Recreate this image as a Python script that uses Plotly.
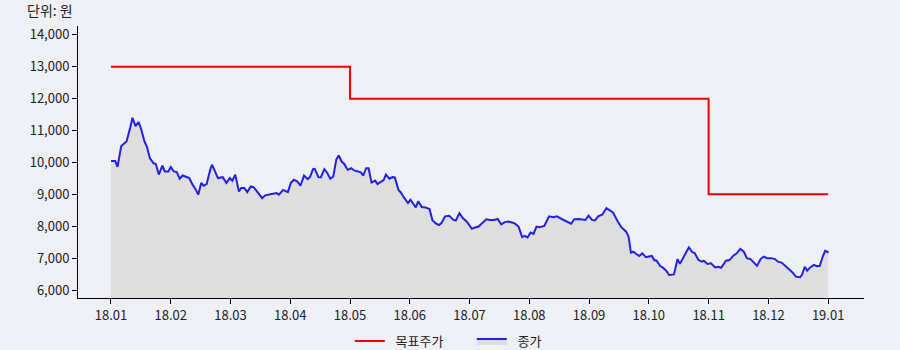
import plotly.graph_objects as go

# Month positions (0 = 18.01, 12 = 19.01) and closing prices
close_t = [0.00, 0.07, 0.11, 0.17, 0.21, 0.26, 0.32, 0.36, 0.41, 0.46, 0.50, 0.56, 0.60, 0.65, 0.71, 0.75,
           0.80, 0.86, 0.90, 0.96, 1.00, 1.05, 1.10, 1.15, 1.20, 1.27, 1.31, 1.36, 1.41, 1.46, 1.51, 1.55,
           1.60, 1.66, 1.69, 1.74, 1.79, 1.87, 1.93, 1.99, 2.03, 2.08, 2.14, 2.18, 2.23, 2.28, 2.34, 2.39,
           2.46, 2.53, 2.58, 2.66, 2.71, 2.77, 2.81, 2.88, 2.96, 3.01, 3.06, 3.12, 3.17, 3.23, 3.29, 3.33,
           3.38, 3.41, 3.47, 3.51, 3.57, 3.62, 3.67, 3.72, 3.77, 3.81, 3.86, 3.90, 3.96, 4.02, 4.07, 4.13,
           4.18, 4.22, 4.27, 4.31, 4.36, 4.42, 4.46, 4.52, 4.56, 4.60, 4.66, 4.71, 4.75, 4.81, 4.85, 4.91,
           4.97, 5.01, 5.05, 5.10, 5.14, 5.20, 5.26, 5.33, 5.38, 5.45, 5.49, 5.53, 5.59, 5.66, 5.73, 5.77,
           5.83, 5.89, 5.95, 5.98, 6.04, 6.09, 6.15, 6.20, 6.28, 6.34, 6.41, 6.47, 6.53, 6.59, 6.65, 6.71,
           6.76, 6.82, 6.88, 6.92, 6.97, 7.02, 7.07, 7.12, 7.17, 7.25, 7.33, 7.40, 7.46, 7.55, 7.63, 7.70,
           7.75, 7.83, 7.94, 7.99, 8.05, 8.10, 8.15, 8.22, 8.29, 8.35, 8.40, 8.48, 8.54, 8.62, 8.66, 8.70,
           8.74, 8.79, 8.84, 8.89, 8.95, 9.00, 9.05, 9.09, 9.13, 9.19, 9.23, 9.29, 9.34, 9.42, 9.48, 9.52,
           9.58, 9.62, 9.67, 9.72, 9.77, 9.83, 9.89, 9.92, 9.98, 10.04, 10.11, 10.16, 10.21, 10.29, 10.35,
           10.41, 10.47, 10.53, 10.59, 10.64, 10.70, 10.76, 10.81, 10.87, 10.92, 10.98, 11.05, 11.11, 11.16,
           11.22, 11.29, 11.36, 11.41, 11.46, 11.53, 11.56, 11.61, 11.65, 11.70, 11.76, 11.81, 11.86, 11.91,
           11.95, 11.99, 12.00]
close = [10050, 10050, 9860, 10510, 10580, 10660, 11080, 11400, 11140, 11270, 11080, 10660, 10500, 10140, 9980, 9950,
         9620, 9900, 9720, 9720, 9860, 9720, 9700, 9490, 9590, 9530, 9510, 9320, 9180, 8990, 9360, 9270,
         9320, 9770, 9930, 9720, 9510, 9540, 9360, 9510, 9430, 9620, 9090, 9200, 9200, 9070, 9250, 9220,
         9060, 8880, 8970, 9010, 9020, 9040, 8990, 9140, 9070, 9360, 9460, 9400, 9270, 9590, 9480, 9540,
         9790, 9800, 9540, 9530, 9790, 9670, 9490, 9560, 10090, 10220, 10030, 9960, 9770, 9820, 9750, 9720,
         9690, 9590, 9820, 9820, 9370, 9430, 9320, 9400, 9440, 9620, 9490, 9540, 9530, 9140, 9060, 8880,
         8730, 8830, 8730, 8590, 8780, 8600, 8590, 8540, 8180, 8070, 8040, 8100, 8310, 8330, 8200, 8180,
         8410, 8250, 8150, 8080, 7920, 7960, 7990, 8080, 8220, 8200, 8200, 8230, 8060, 8130, 8150, 8120,
         8080, 7990, 7660, 7700, 7650, 7800, 7760, 7990, 7970, 8010, 8310, 8280, 8310, 8220, 8150, 8080,
         8220, 8230, 8200, 8330, 8200, 8180, 8310, 8360, 8570, 8480, 8430, 8150, 7970, 7830, 7680, 7170,
         7200, 7130, 7070, 7150, 7030, 7050, 7070, 6940, 6920, 6750, 6710, 6610, 6470, 6490, 6970, 6820,
         7050, 7170, 7340, 7200, 7150, 6940, 6890, 6920, 6820, 6840, 6710, 6730, 6700, 6920, 6940,
         7070, 7150, 7290, 7200, 7000, 6970, 6860, 6760, 6970, 7050, 7000, 7000, 6970, 6890,
         6860, 6730, 6630, 6540, 6420, 6400, 6470, 6730, 6610, 6710, 6790, 6750, 6760, 7050,
         7230, 7200, 7160]

# Target price steps
target_t = [0, 4, 10, 12]
target = [13000, 12000, 9000, 9000]

tick_labels = ["18.01", "18.02", "18.03", "18.04", "18.05", "18.06", "18.07",
               "18.08", "18.09", "18.10", "18.11", "18.12", "19.01"]
tick_pos = list(range(len(tick_labels)))
y_ticks = [6000, 7000, 8000, 9000, 10000, 11000, 12000, 13000, 14000]

BG = "#eff0f5"
FONT = "Noto Sans CJK KR"
PAD = "\u00a0\u00a0"

fig = go.Figure()
fig.add_trace(go.Scatter(
    x=target_t, y=target, mode="lines", name=PAD + "목표주가",
    line=dict(color="#ee0000", width=2, shape="hv"),
))
fig.add_trace(go.Scatter(
    x=close_t, y=close, mode="lines", name=PAD + "종가",
    line=dict(color="#2222dd", width=2),
    fill="tozeroy", fillcolor="#dedede",
))

fig.update_layout(
    width=900, height=350,
    margin=dict(l=78, r=36, t=26, b=52, autoexpand=False),
    paper_bgcolor=BG, plot_bgcolor=BG,
    font=dict(family=FONT, size=13, color="#222222"),
    showlegend=True,
    legend=dict(orientation="h", x=0.501, xanchor="center", y=-0.158, yanchor="middle",
                font=dict(size=13, family=FONT), bgcolor="rgba(0,0,0,0)", itemwidth=30,
                entrywidth=77, entrywidthmode="pixels"),
    annotations=[dict(text="단위: 원", xref="paper", yref="paper", x=-0.0674, y=1.058,
                      xanchor="left", yanchor="middle", showarrow=False,
                      font=dict(size=14, family=FONT, color="#222222"))],
)
fig.update_xaxes(
    range=[-0.552, 12.60], tickmode="array", tickvals=tick_pos, ticktext=tick_labels,
    showgrid=False, zeroline=False, showline=True, linecolor="#000000", linewidth=1,
    ticks="outside", ticklen=5, tickcolor="#000000", tickfont=dict(size=13),
)
fig.update_yaxes(
    range=[5750, 14280], tickmode="array", tickvals=y_ticks,
    ticktext=[f"{v:,}" for v in y_ticks],
    showgrid=False, zeroline=False, showline=True, linecolor="#000000", linewidth=1,
    ticks="outside", ticklen=5, tickcolor="#000000", tickfont=dict(size=13),
)

fig.write_html("out.html")
